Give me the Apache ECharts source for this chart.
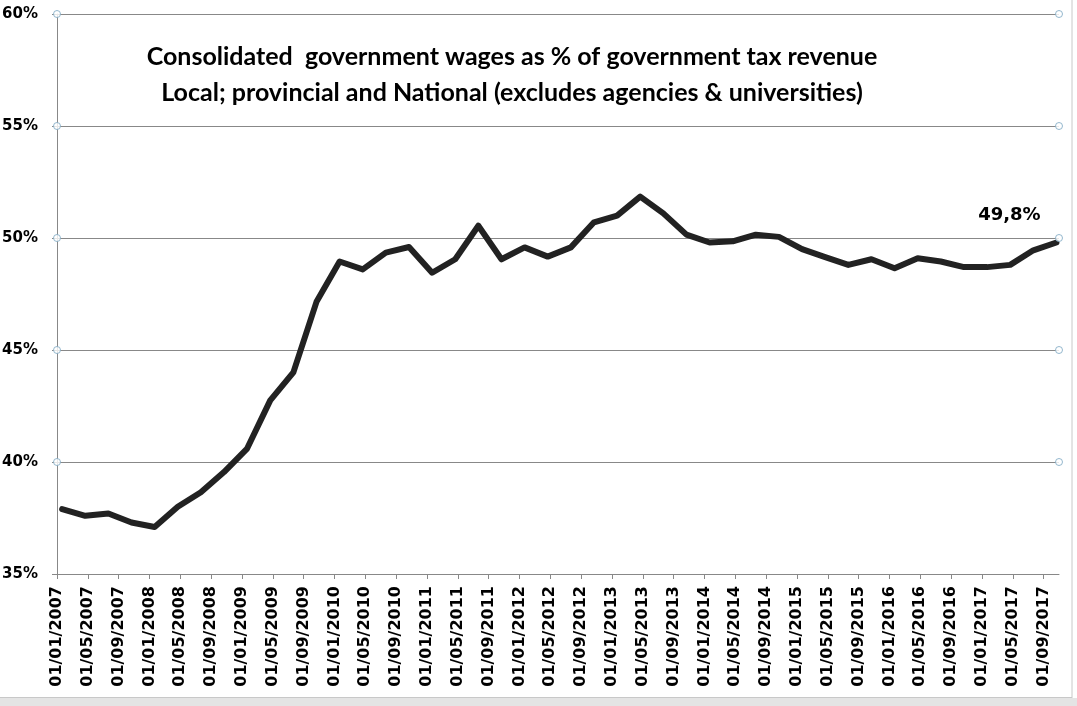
<!DOCTYPE html>
<html>
<head>
<meta charset="utf-8">
<script src="https://cdn.jsdelivr.net/npm/echarts@6/dist/echarts.min.js"></script>
<style>
  html, body { margin: 0; padding: 0; background: #fff; }
  #chart { width: 1077px; height: 706px; }
</style>
</head>
<body>
<div id="chart"></div>
<script>
// x tick labels, one every 4 months
const tickLabels = [
  '01/01/2007', '01/05/2007', '01/09/2007',
  '01/01/2008', '01/05/2008', '01/09/2008',
  '01/01/2009', '01/05/2009', '01/09/2009',
  '01/01/2010', '01/05/2010', '01/09/2010',
  '01/01/2011', '01/05/2011', '01/09/2011',
  '01/01/2012', '01/05/2012', '01/09/2012',
  '01/01/2013', '01/05/2013', '01/09/2013',
  '01/01/2014', '01/05/2014', '01/09/2014',
  '01/01/2015', '01/05/2015', '01/09/2015',
  '01/01/2016', '01/05/2016', '01/09/2016',
  '01/01/2017', '01/05/2017', '01/09/2017'
];

// quarterly observations
const quarterDates = [
  '2007-01-21', '2007-04-21', '2007-07-21', '2007-10-21',
  '2008-01-21', '2008-04-21', '2008-07-21', '2008-10-21',
  '2009-01-21', '2009-04-21', '2009-07-21', '2009-10-21',
  '2010-01-21', '2010-04-21', '2010-07-21', '2010-10-21',
  '2011-01-21', '2011-04-21', '2011-07-21', '2011-10-21',
  '2012-01-21', '2012-04-21', '2012-07-21', '2012-10-21',
  '2013-01-21', '2013-04-21', '2013-07-21', '2013-10-21',
  '2014-01-21', '2014-04-21', '2014-07-21', '2014-10-21',
  '2015-01-21', '2015-04-21', '2015-07-21', '2015-10-21',
  '2016-01-21', '2016-04-21', '2016-07-21', '2016-10-21',
  '2017-01-21', '2017-04-21', '2017-07-21', '2017-10-21'
];
const wagePct = [
  37.9, 37.6, 37.7, 37.3,
  37.1, 38.0, 38.65, 39.55,
  40.6, 42.75, 44.0, 47.15,
  48.95, 48.6, 49.35, 49.6,
  48.45, 49.05, 50.55, 49.05,
  49.58, 49.17, 49.58, 50.7,
  51.0, 51.85, 51.1, 50.15,
  49.8, 49.85, 50.15, 50.05,
  49.5, 49.15, 48.8, 49.05,
  48.65, 49.1, 48.95, 48.7,
  48.7, 48.8, 49.45, 49.8
];

const yTicks = [35, 40, 45, 50, 55, 60];

const titleText = 'Consolidated  government wages as % of government tax revenue\n' +
  'Local; provincial and National (excludes agencies & universities)';

// months since 01/01/2007
const toMonth = (d) => {
  let p = d.split('-').map(Number);
  return (p[0] - 2007) * 12 + (p[1] - 1) + (p[2] - 1) / 30;
};
const axisEnd = tickLabels.length * 4 - 2;   // 01/11/2017

let seriesData = quarterDates.map((d, i) => [toMonth(d), wagePct[i]]);
let last = seriesData.length - 1;
seriesData[last] = {
  value: seriesData[last],
  label: {
    show: true,
    position: 'top',
    offset: [-47, -13],
    formatter: (p) => p.value[1].toFixed(1).replace('.', ',') + '%',
    fontFamily: 'DejaVu Sans',
    fontWeight: 'bold',
    fontSize: 18,
    color: '#000'
  }
};

let handles = [];
yTicks.filter(v => v > yTicks[0]).forEach(v => {
  handles.push([0, v]);
  handles.push([axisEnd, v]);
});

let option = {
  backgroundColor: '#fff',
  animation: false,
  title: {
    text: titleText,
    left: 512,
    top: 39,
    padding: 0,
    textAlign: 'center',
    textStyle: {
      fontFamily: 'Lato',
      fontWeight: 'bold',
      fontSize: 25,
      lineHeight: 36,
      color: '#000'
    }
  },
  grid: { left: 57, right: 18, top: 14, bottom: 132, outerBoundsMode: 'none' },
  xAxis: {
    type: 'value',
    min: 0,
    max: axisEnd,
    splitLine: { show: false },
    axisLine: { show: true, lineStyle: { color: '#888', width: 1 } },
    axisTick: {
      show: true,
      length: 5,
      lineStyle: { color: '#888' },
      customValues: tickLabels.map((_, i) => i * 4)
    },
    axisLabel: {
      rotate: 90,
      margin: 12,
      customValues: tickLabels.map((_, i) => i * 4),
      formatter: (v) => tickLabels[Math.round(v / 4)] || '',
      fontFamily: 'DejaVu Sans',
      fontWeight: 'bold',
      fontSize: 16,
      color: '#000'
    }
  },
  yAxis: {
    type: 'value',
    min: 35,
    max: 60,
    interval: 5,
    axisLine: { show: true, lineStyle: { color: '#888', width: 1 } },
    axisTick: { show: true, length: 5, lineStyle: { color: '#888' } },
    splitLine: { show: true, lineStyle: { color: '#888', width: 1 } },
    axisLabel: {
      margin: 19,
      formatter: '{value}%',
      fontFamily: 'DejaVu Sans',
      fontWeight: 'bold',
      fontSize: 15,
      color: '#000'
    }
  },
  series: [
    {
      type: 'line',
      data: seriesData,
      symbol: 'circle',
      symbolSize: 0,
      showSymbol: true,
      lineStyle: { color: '#222', width: 6, cap: 'round', join: 'round' },
      itemStyle: { color: '#222' },
      silent: true,
      z: 3
    },
    {
      type: 'scatter',
      data: handles,
      symbol: 'circle',
      symbolSize: 7,
      itemStyle: { color: '#fff', borderColor: '#7aa6c2', borderWidth: 1 },
      silent: true,
      z: 4
    }
  ],
  graphic: [
    { type: 'rect', shape: { x: 0, y: 698, width: 1077, height: 8 }, style: { fill: '#e4e4e4' } },
    { type: 'line', shape: { x1: 1072, y1: 0, x2: 1072, y2: 698 }, style: { stroke: '#c8c8c8', lineWidth: 1 } },
    { type: 'line', shape: { x1: 0, y1: 697.5, x2: 1072, y2: 697.5 }, style: { stroke: '#c8c8c8', lineWidth: 1 } }
  ]
};

let myChart = echarts.init(document.getElementById('chart'));
myChart.setOption(option);
</script>
</body>
</html>
